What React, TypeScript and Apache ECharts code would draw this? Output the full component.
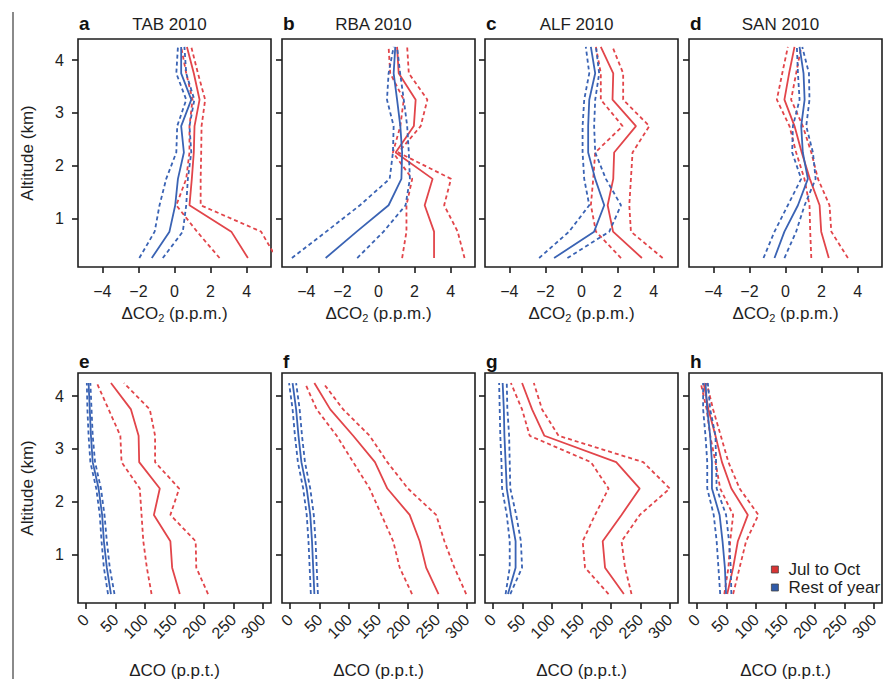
import React, { useEffect, useRef } from 'react';
import * as echarts from 'echarts';

// Altitude levels (km), bottom to top
const ALTITUDES = [0.25, 0.75, 1.25, 1.75, 2.25, 2.75, 3.25, 3.75, 4.25];
const ALT_TICKS = [1, 2, 3, 4];
const CO2_TICKS = [-4, -2, 0, 2, 4];
const CO_TICKS = [0, 50, 100, 150, 200, 250, 300];

type Band = { mean: number[]; lo: number[]; hi: number[] };

// ---- ΔCO2 (p.p.m.) ----
const TAB_CO2_JUL: Band = {
  mean: [4.07, 3.15, 0.83, 0.96, 1.07, 1.11, 1.39, 1.07, 0.69],
  lo: [2.5, 1.25, 0.1, 0.65, 0.83, 0.83, 1.0, 0.65, 0.37],
  hi: [5.65, 4.8, 1.45, 1.45, 1.48, 1.5, 1.7, 1.3, 0.93],
};
const TAB_CO2_REST: Band = {
  mean: [-1.26, -0.28, 0.04, 0.19, 0.52, 0.37, 0.93, 0.37, 0.37],
  lo: [-1.95, -1.1, -0.83, -0.46, 0.1, 0.15, 0.65, 0.1, 0.19],
  hi: [-0.65, 0.46, 0.65, 0.74, 0.93, 0.83, 1.1, 0.65, 0.55],
};
const RBA_CO2_JUL: Band = {
  mean: [3.08, 3.08, 2.56, 3.0, 0.95, 1.96, 2.06, 1.12, 1.03],
  lo: [1.31, 1.55, 1.55, 1.87, 0.8, 1.21, 1.4, 0.65, 0.56],
  hi: [4.77, 4.39, 3.64, 4.02, 1.1, 2.34, 2.71, 1.68, 1.59],
};
const RBA_CO2_REST: Band = {
  mean: [-2.93, -1.21, 0.56, 1.27, 1.31, 1.21, 1.03, 0.84, 0.93],
  lo: [-4.8, -2.9, -1.03, 0.62, 0.8, 0.84, 0.47, 0.56, 0.84],
  hi: [-1.18, 0.28, 1.5, 1.74, 1.68, 1.59, 1.4, 1.2, 1.03],
};
const ALF_CO2_JUL: Band = {
  mean: [3.35, 1.75, 1.45, 1.76, 1.81, 3.02, 1.72, 1.76, 1.07],
  lo: [2.19, 0.8, 0.52, 0.65, 0.76, 2.28, 1.07, 1.07, 0.8],
  hi: [4.5, 2.74, 2.65, 2.74, 2.83, 3.76, 2.31, 2.31, 1.72],
};
const ALF_CO2_REST: Band = {
  mean: [-1.52, 0.7, 1.26, 0.76, 0.37, 0.37, 0.43, 0.76, 0.52],
  lo: [-2.35, -0.69, 0.43, 0.15, 0.06, 0.06, 0.15, 0.43, 0.24],
  hi: [-0.78, 1.54, 2.19, 1.35, 0.76, 0.7, 0.76, 0.98, 0.8],
};
const SAN_CO2_JUL: Band = {
  mean: [2.4, 1.98, 1.89, 1.35, 0.9, 0.5, -0.06, 0.2, 0.5],
  lo: [1.43, 1.37, 1.33, 1.05, 0.59, 0.22, -0.48, -0.18, 0.13],
  hi: [3.46, 2.54, 2.44, 1.8, 1.43, 0.96, 0.31, 0.59, 0.87],
};
const SAN_CO2_REST: Band = {
  mean: [-0.61, -0.06, 0.69, 1.24, 0.96, 0.87, 1.06, 1.0, 0.78],
  lo: [-1.22, -0.61, 0.13, 0.87, 0.37, 0.41, 0.78, 0.69, 0.63],
  hi: [-0.06, 0.59, 1.06, 1.67, 1.52, 1.15, 1.33, 1.3, 0.93],
};

// ---- ΔCO (p.p.t.) ----
const TAB_CO_JUL: Band = {
  mean: [159, 146, 143, 115, 125, 90, 89, 76, 42],
  lo: [111, 103, 97, 94, 91, 60, 58, 38, 18],
  hi: [207, 187, 186, 143, 158, 117, 117, 108, 64],
};
const TAB_CO_REST: Band = {
  mean: [42, 35, 30, 27, 21, 11, 8, 6, 4],
  lo: [37, 30, 26, 23, 17, 7, 4, 2, 1],
  hi: [48, 40, 35, 31, 25, 15, 11, 9, 7],
};
const RBA_CO_JUL: Band = {
  mean: [252, 231, 220, 203, 165, 144, 107, 68, 41],
  lo: [207, 186, 175, 155, 135, 107, 79, 45, 25],
  hi: [299, 279, 262, 248, 200, 165, 135, 90, 56],
};
const RBA_CO_REST: Band = {
  mean: [41, 39, 37, 34, 28, 19, 14, 10, 4],
  lo: [35, 33, 31, 28, 22, 13, 8, 4, -2],
  hi: [47, 45, 43, 40, 34, 25, 20, 16, 10],
};
const ALF_CO_JUL: Band = {
  mean: [222, 190, 186, 218, 249, 209, 87, 66, 49],
  lo: [196, 156, 152, 173, 196, 166, 62, 49, 30],
  hi: [235, 224, 218, 249, 300, 255, 111, 83, 69],
};
const ALF_CO_REST: Band = {
  mean: [25, 38, 38, 30, 23, 21, 19, 18, 16],
  lo: [21, 28, 28, 23, 15, 14, 12, 11, 10],
  hi: [29, 49, 47, 39, 29, 28, 27, 24, 23],
};
const SAN_CO_JUL: Band = {
  mean: [51, 61, 69, 86, 58, 42, 31, 19, 11],
  lo: [46, 53, 56, 61, 39, 31, 22, 16, 6],
  hi: [61, 72, 83, 104, 72, 53, 40, 27, 16],
};
const SAN_CO_REST: Band = {
  mean: [49, 47, 43, 38, 25, 25, 22, 17, 14],
  lo: [39, 36, 33, 28, 17, 17, 14, 10, 10],
  hi: [58, 57, 54, 49, 33, 32, 31, 22, 18],
};

const SITES = ['TAB 2010', 'RBA 2010', 'ALF 2010', 'SAN 2010'];
const LETTERS_TOP = ['a', 'b', 'c', 'd'];
const LETTERS_BOTTOM = ['e', 'f', 'g', 'h'];
const CO2_BANDS = [
  [TAB_CO2_JUL, TAB_CO2_REST],
  [RBA_CO2_JUL, RBA_CO2_REST],
  [ALF_CO2_JUL, ALF_CO2_REST],
  [SAN_CO2_JUL, SAN_CO2_REST],
];
const CO_BANDS = [
  [TAB_CO_JUL, TAB_CO_REST],
  [RBA_CO_JUL, RBA_CO_REST],
  [ALF_CO_JUL, ALF_CO_REST],
  [SAN_CO_JUL, SAN_CO_REST],
];
const SERIES_NAMES = ['Jul to Oct', 'Rest of year'];

const RED = '#e2454a';
const BLUE = '#3a63b4';
const INK = '#1e1e1e';
const FONT = '"Liberation Sans", Arial, Helvetica, sans-serif';

const LEFTS = [78, 282, 485, 689];
const PANEL_W = 193;
const ROWS = [
  { top: 39, height: 228, yMin: 0.08, yMax: 4.4 },
  { top: 373, height: 230, yMin: 0.08, yMax: 4.44 },
];

const fmtNum = (v: number) => (v < 0 ? '\u2212' + Math.abs(v) : String(v));

function buildOption() {
  const grid: any[] = [];
  const xAxis: any[] = [];
  const yAxis: any[] = [];
  const series: any[] = [];
  const graphic: any[] = [];

  graphic.push({
    type: 'line',
    shape: { x1: 13, y1: 12, x2: 13, y2: 679 },
    style: { stroke: '#8a8a8a', lineWidth: 2 },
  });

  for (let row = 0; row < 2; row++) {
    const R = ROWS[row];
    for (let col = 0; col < 4; col++) {
      const gi = row * 4 + col;
      const left = LEFTS[col];
      grid.push({
        left,
        top: R.top,
        width: PANEL_W,
        height: R.height,
        show: true,
        borderColor: INK,
        borderWidth: 1.6,
        backgroundColor: 'transparent',
        outerBoundsMode: 'none',
      });
      const isCO2 = row === 0;
      const ticks = isCO2 ? CO2_TICKS : CO_TICKS;
      xAxis.push({
        type: 'value',
        gridIndex: gi,
        min: isCO2 ? -5.35 : -14,
        max: isCO2 ? 5.35 : 314,
        axisLine: { show: false, onZero: false },
        axisTick: {
          show: true,
          customValues: ticks,
          length: 6,
          lineStyle: { color: INK, width: 1.6 },
        },
        axisLabel: {
          customValues: ticks,
          formatter: (v: number) => fmtNum(v),
          fontSize: 16,
          color: INK,
          fontFamily: FONT,
          margin: isCO2 ? 16 : 14,
          rotate: isCO2 ? 0 : 45,
        },
        splitLine: { show: false },
        name: isCO2 ? '\u0394CO{sub|2} (p.p.m.)' : '\u0394CO (p.p.t.)',
        nameLocation: 'middle',
        nameGap: isCO2 ? 36 : 59,
        nameTextStyle: {
          fontSize: 17,
          color: INK,
          fontFamily: FONT,
          verticalAlign: 'top',
          rich: {
            sub: { fontSize: 11, fontFamily: FONT, color: INK, padding: [9, 0, 0, 0] },
          },
        },
      });
      yAxis.push({
        type: 'value',
        gridIndex: gi,
        min: R.yMin,
        max: R.yMax,
        axisLine: { show: false, onZero: false },
        axisTick: {
          show: true,
          customValues: ALT_TICKS,
          length: 6,
          lineStyle: { color: INK, width: 1.6 },
        },
        axisLabel: {
          show: col === 0,
          customValues: ALT_TICKS,
          fontSize: 16,
          color: INK,
          fontFamily: FONT,
          margin: 14,
        },
        splitLine: { show: false },
        name: col === 0 ? 'Altitude (km)' : '',
        nameLocation: 'middle',
        nameRotate: 90,
        nameGap: 42,
        nameTextStyle: { fontSize: 17, color: INK, fontFamily: FONT },
      });

      const bands = isCO2 ? CO2_BANDS[col] : CO_BANDS[col];
      bands.forEach((band, bi) => {
        const color = bi === 0 ? RED : BLUE;
        const parts: [number[], boolean][] = [
          [band.lo, true],
          [band.hi, true],
          [band.mean, false],
        ];
        parts.forEach(([vals, dashed]) => {
          series.push({
            type: 'line',
            name: SERIES_NAMES[bi],
            xAxisIndex: gi,
            yAxisIndex: gi,
            data: ALTITUDES.map((a, k) => [vals[k], a]),
            symbol: 'none',
            clip: true,
            silent: true,
            z: 2 + bi,
            itemStyle: { color },
            lineStyle: {
              color,
              width: 1.8,
              type: dashed ? [4, 3] : 'solid',
            },
          });
        });
      });

      const letters = row === 0 ? LETTERS_TOP : LETTERS_BOTTOM;
      const cy = row === 0 ? 24 : 362;
      graphic.push({
        type: 'text',
        left: left + 1,
        top: cy - 10,
        style: {
          text: letters[col],
          fontSize: 19,
          fontWeight: 'bold',
          fill: '#111',
          fontFamily: FONT,
        },
      });
      if (row === 0) {
        graphic.push({
          type: 'text',
          x: left + PANEL_W / 2 - 5,
          y: cy,
          style: {
            text: SITES[col],
            fontSize: 17,
            fill: INK,
            fontFamily: FONT,
            align: 'center',
            verticalAlign: 'middle',
          },
        });
      }
    }
  }

  return {
    animation: false,
    backgroundColor: '#ffffff',
    textStyle: { fontFamily: FONT },
    grid,
    xAxis,
    yAxis,
    series,
    graphic,
    legend: {
      data: [
        { name: 'Jul to Oct', itemStyle: { color: '#d83434', borderColor: '#444', borderWidth: 0.8 } },
        { name: 'Rest of year', itemStyle: { color: '#2f5aa8', borderColor: '#444', borderWidth: 0.8 } },
      ],
      orient: 'vertical',
      left: 766,
      top: 556,
      icon: 'rect',
      itemWidth: 7,
      itemHeight: 7,
      itemGap: 1,
      selectedMode: false,
      textStyle: { fontSize: 17, color: INK, fontFamily: FONT, padding: [0, 0, 0, 5] },
    },
  };
}

export default function App() {
  const ref = useRef<HTMLDivElement>(null);
  useEffect(() => {
    if (!ref.current) return;
    const chart = echarts.init(ref.current, undefined, { renderer: 'svg' });
    chart.setOption(buildOption() as any);
    return () => chart.dispose();
  }, []);
  return (
    <div
      ref={ref}
      style={{ position: 'fixed', left: 0, top: 0, width: 889, height: 679, background: '#fff' }}
    />
  );
}
